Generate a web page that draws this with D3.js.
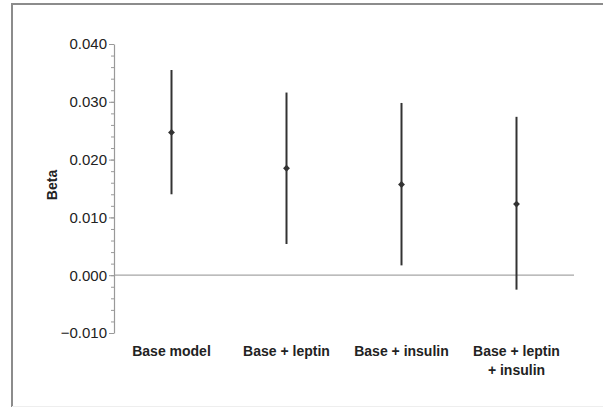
<!DOCTYPE html>
<html>
<head>
<meta charset="utf-8">
<script src="https://cdn.jsdelivr.net/npm/d3@7"></script>
<style>
  body { margin: 0; background: #fff; }
  svg { display: block; font-family: "Liberation Sans", Arial, sans-serif; }
</style>
</head>
<body>
<div id="chart"></div>
<script>
// >-----------------< Data >-------------------<
const models = ["Base model", "Base + leptin", "Base + insulin", "Base + leptin\n+ insulin"];
const betas = [0.0247, 0.0185, 0.0157, 0.0123];
const lowerCI = [0.0140, 0.0054, 0.0017, -0.0025];
const upperCI = [0.0355, 0.0316, 0.0298, 0.0274];
const yTicks = [-0.010, 0.000, 0.010, 0.020, 0.030, 0.040];
const yMinorTicks = d3.range(-0.010, 0.0401, 0.002);

// >-----------------< Config >-------------------<
const width = 603, height = 407;
const plot = {left: 114, right: 574, top: 44, bottom: 333};

const svg = d3.select("#chart")
  .append("svg")
  .attr("width", width)
  .attr("height", height);

// frame (top + left only, like the source figure)
svg.append("line")
  .attr("x1", 12).attr("x2", width).attr("y1", 4).attr("y2", 4)
  .attr("stroke", "#8c8c8c").attr("stroke-width", 2);
svg.append("line")
  .attr("x1", 12).attr("x2", 12).attr("y1", 3).attr("y2", height)
  .attr("stroke", "#8c8c8c").attr("stroke-width", 2);
svg.append("line")
  .attr("x1", 12).attr("x2", width).attr("y1", 406.5).attr("y2", 406.5)
  .attr("stroke", "#eee").attr("stroke-width", 1);

// >-----------------< Scales >-------------------<
const x = d3.scaleBand()
  .domain(models)
  .range([plot.left, plot.right]);

const y = d3.scaleLinear()
  .domain([-0.010, 0.040])
  .range([plot.bottom, plot.top]);

// zero reference line
svg.append("line")
  .attr("x1", plot.left).attr("x2", plot.right)
  .attr("y1", y(0)).attr("y2", y(0))
  .attr("stroke", "#a6a6a6").attr("stroke-width", 1.2);

// >-----------------< Y axis >-------------------<
const minorAxis = svg.append("g")
  .attr("transform", `translate(${plot.left},0)`)
  .call(d3.axisLeft(y).tickValues(yMinorTicks).tickSize(3).tickFormat("").tickSizeOuter(0));
minorAxis.select(".domain").remove();
minorAxis.selectAll("line").attr("stroke", "#999");

const yAxis = svg.append("g")
  .attr("transform", `translate(${plot.left},0)`)
  .call(d3.axisLeft(y)
    .tickValues(yTicks)
    .tickSize(5)
    .tickSizeOuter(0)
    .tickPadding(2)
    .tickFormat(d => d3.format(".3f")(d).replace("-", "\u2013")));
yAxis.select(".domain").attr("stroke", "#999").attr("stroke-width", 1.2);
yAxis.selectAll(".tick line").attr("stroke", "#999");
yAxis.selectAll("text")
  .attr("font-size", 15)
  .attr("font-family", "'Liberation Sans', Arial, sans-serif")
  .attr("fill", "#222");

svg.append("text")
  .attr("transform", `translate(57,185) rotate(-90)`)
  .attr("text-anchor", "middle")
  .attr("font-size", 14)
  .attr("font-weight", "bold")
  .attr("fill", "#222")
  .text("Beta");

// >-----------------< Category labels >-------------------<
const labels = svg.selectAll(".cat")
  .data(models)
  .enter().append("text")
  .attr("class", "cat")
  .attr("x", d => x(d) + x.bandwidth() / 2)
  .attr("y", 356)
  .attr("text-anchor", "middle")
  .attr("font-size", 14)
  .attr("font-weight", "bold")
  .attr("fill", "#222");

labels.selectAll("tspan")
  .data(d => d.split("\n").map(t => ({t, cx: x(d) + x.bandwidth() / 2})))
  .enter().append("tspan")
  .attr("x", d => d.cx)
  .attr("dy", (d, i) => i === 0 ? 0 : 19)
  .text(d => d.t);

// >-----------------< Error bars + points >-------------------<
const rows = models.map((m, i) => ({model: m, beta: betas[i], lo: lowerCI[i], hi: upperCI[i]}));

svg.selectAll(".ci")
  .data(rows)
  .enter().append("line")
  .attr("class", "ci")
  .attr("x1", d => x(d.model) + x.bandwidth() / 2)
  .attr("x2", d => x(d.model) + x.bandwidth() / 2)
  .attr("y1", d => y(d.lo))
  .attr("y2", d => y(d.hi))
  .attr("stroke", "#333")
  .attr("stroke-width", 2);

svg.selectAll(".pt")
  .data(rows)
  .enter().append("path")
  .attr("class", "pt")
  .attr("transform", d => `translate(${x(d.model) + x.bandwidth() / 2},${y(d.beta)})`)
  .attr("d", d3.symbol(d3.symbolDiamond2, 30))
  .attr("fill", "#333");
</script>
</body>
</html>
